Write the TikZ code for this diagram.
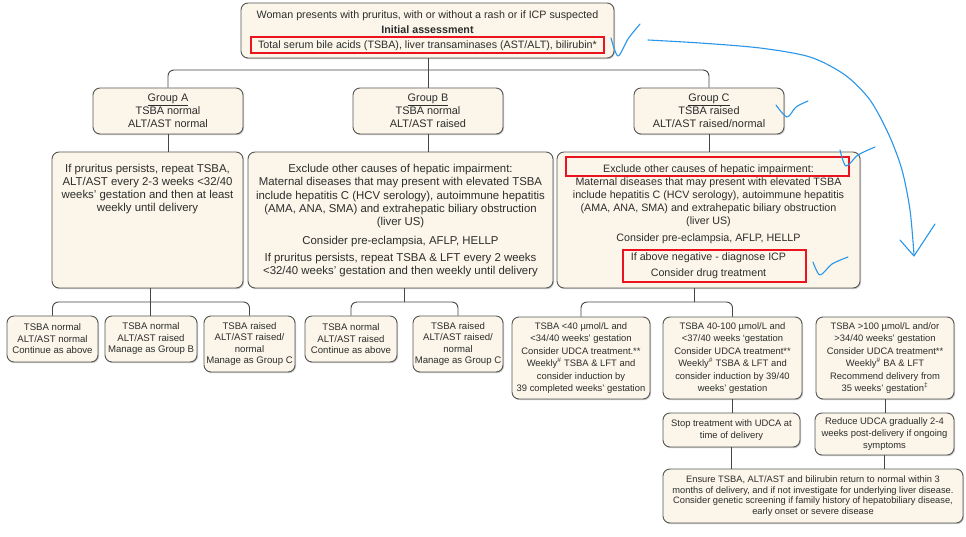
\documentclass[tikz,border=0pt]{standalone}
\usepackage{fontspec}
\setmainfont{Liberation Sans}
\usetikzlibrary{shadows}
\definecolor{boxfill}{RGB}{251,246,233}
\definecolor{boxdraw}{RGB}{85,85,85}
\definecolor{txt}{RGB}{45,45,45}
\definecolor{conncol}{RGB}{70,70,70}
\definecolor{annred}{RGB}{235,20,30}
\definecolor{annblue}{RGB}{40,150,235}
\tikzset{
  box/.style={draw=boxdraw, line width=0.9pt, fill=boxfill, rounded corners=7pt,
    drop shadow={shadow xshift=1pt, shadow yshift=-1.2pt, fill=black!40, opacity=0.5},
    inner sep=0pt, text=txt, align=center},
  plain/.style={inner sep=0pt, text=txt, align=center},
  fbig/.style={font=\fontsize{10.7}{15}\selectfont},
  fgrp/.style={font=\fontsize{10.9}{13}\selectfont},
  fdet/.style={font=\fontsize{11.4}{13.3}\selectfont},
  fdetc/.style={font=\fontsize{10.7}{13}\selectfont},
  fsmall/.style={font=\fontsize{9.6}{11.5}\selectfont},
  fc/.style={font=\fontsize{9.4}{12.4}\selectfont},
  fens/.style={font=\fontsize{9.3}{10.8}\selectfont},
  conn/.style={draw=conncol, line width=0.9pt},
  branch/.style={conn, rounded corners=6pt},
  redbox/.style={draw=annred, line width=1.4pt},
  annot/.style={draw=annblue, line width=1.1pt, line cap=round, line join=round},
}
\begin{document}
\begin{tikzpicture}[x=1pt,y=-1pt]
\useasboundingbox[fill=white] (0,0) rectangle (966,536);

% top
\node[box, fbig, minimum width=373pt, minimum height=55pt] (top) at (427.5,30.5)
  {Woman presents with pruritus, with or without a rash or if ICP suspected\\
   \textbf{Initial assessment}\\
   Total serum bile acids (TSBA), liver transaminases (AST/ALT), bilirubin*};

% groups
\node[box, fgrp, minimum width=150pt, minimum height=46pt] (gA) at (168,111)
  {\underline{Group A}\\TSBA normal\\ALT/AST normal};
\node[box, fgrp, minimum width=150pt, minimum height=46pt] (gB) at (428,111)
  {\underline{Group B}\\TSBA normal\\ALT/AST raised};
\node[box, fgrp, minimum width=150pt, minimum height=46pt] (gC) at (709,111)
  {\underline{Group C}\\TSBA raised\\ALT/AST raised/normal};

% details
\node[box, minimum width=191pt, minimum height=136pt] (adet) at (147.5,220) {};
\node[box, minimum width=305pt, minimum height=136pt] (bdet) at (400.5,220) {};
\node[box, minimum width=303pt, minimum height=136pt] (cdet) at (708.5,220) {};

\node[plain, fdet, anchor=north] (atext) at ([yshift=-12pt]adet.north)
  {If pruritus persists, repeat TSBA,\\
   ALT/AST every 2-3 weeks <32/40\\
   weeks’ gestation and then at least\\
   weekly until delivery};
\node[plain, fdet, anchor=north] (btext) at ([yshift=-12.5pt]bdet.north)
  {Exclude other causes of hepatic impairment:\\
   Maternal diseases that may present with elevated TSBA\\
   include hepatitis C (HCV serology), autoimmune hepatitis\\
   (AMA, ANA, SMA) and extrahepatic biliary obstruction\\
   (liver US)\\[5pt]
   Consider pre-eclampsia, AFLP, HELLP\\[4pt]
   If pruritus persists, repeat TSBA \& LFT every 2 weeks\\
   <32/40 weeks’ gestation and then weekly until delivery};
\node[plain, fdetc, anchor=north] (ctext) at ([yshift=-13pt]cdet.north)
  {Exclude other causes of hepatic impairment:\\
   Maternal diseases that may present with elevated TSBA\\
   include hepatitis C (HCV serology), autoimmune hepatitis\\
   (AMA, ANA, SMA) and extrahepatic biliary obstruction\\
   (liver US)\\[4pt]
   Consider pre-eclampsia, AFLP, HELLP\\[6pt]
   If above negative - diagnose ICP\\[3pt]
   Consider drug treatment};

% row 3 A
\node[box, fsmall, minimum width=91pt, minimum height=46pt] (a1) at (52.5,339)
  {TSBA normal\\ALT/AST normal\\Continue as above};
\node[box, fsmall, minimum width=92pt, minimum height=46pt] (a2) at (151,339)
  {TSBA normal\\ALT/AST raised\\Manage as Group B};
\node[box, fsmall, minimum width=91pt, minimum height=56pt] (a3) at (249.5,344)
  {TSBA raised\\ALT/AST raised/\\normal\\Manage as Group C};
% row 3 B
\node[box, fsmall, minimum width=92pt, minimum height=46pt] (b1) at (351,339)
  {TSBA normal\\ALT/AST raised\\Continue as above};
\node[box, fsmall, minimum width=90pt, minimum height=56pt] (b2) at (458,344)
  {TSBA raised\\ALT/AST raised/\\normal\\Manage as Group C};
% row 3 C
\node[box, fc, minimum width=138pt, minimum height=82pt] (c1) at (581,358)
  {TSBA <40 µmol/L and\\
   <34/40 weeks’ gestation\\
   Consider UDCA treatment.**\\
   Weekly\textsuperscript{\#} TSBA \& LFT and\\
   consider induction by\\
   39 completed weeks’ gestation};
\node[box, fc, minimum width=139pt, minimum height=82pt] (c2) at (732.5,358)
  {TSBA 40-100 µmol/L and\\
   <37/40 weeks ‘gestation\\
   Consider UDCA treatment**\\
   Weekly\textsuperscript{\#} TSBA \& LFT and\\
   consider induction by 39/40\\
   weeks’ gestation};
\node[box, fc, minimum width=138pt, minimum height=82pt] (c3) at (885,358)
  {TSBA >100 µmol/L and/or\\
   >34/40 weeks’ gestation\\
   Consider UDCA treatment**\\
   Weekly\textsuperscript{\#} BA \& LFT\\
   Recommend delivery from\\
   35 weeks’ gestation\textsuperscript{‡}};
\node[box, fc, minimum width=137pt, minimum height=34pt] (stop) at (731.5,430)
  {Stop treatment with UDCA at\\time of delivery};
\node[box, fc, minimum width=139pt, minimum height=42pt] (reduce) at (884.5,434)
  {Reduce UDCA gradually 2-4\\weeks post-delivery if ongoing\\symptoms};
\node[box, fens, minimum width=300pt, minimum height=54pt] (ensure) at (813,496)
  {Ensure TSBA, ALT/AST and bilirubin return to normal within 3\\
   months of delivery, and if not investigate for underlying liver disease.\\
   Consider genetic screening if family history of hepatobiliary disease,\\
   early onset or severe disease};

% connectors
\coordinate (j1) at (428,70);
\coordinate (jA) at (150,302);
\coordinate (jB) at (404,302);
\coordinate (jC) at (694,302);
\draw[conn] (top.south -| gB.north) -- (gB.north);
\draw[branch] (gA.north) |- (j1) -| (gC.north);
\draw[conn] (gA.south) -- (gA.south |- adet.north);
\draw[conn] (gB.south) -- (gB.south |- bdet.north);
\draw[conn] (gC.south) -- (gC.south |- cdet.north);
\draw[conn] (jA |- adet.south) -- (jA |- a2.north);
\draw[branch] (a1.north) |- (jA) -| (a3.north);
\draw[conn] (jB |- bdet.south) -- (jB);
\draw[branch] (b1.north) |- (jB) -| (b2.north);
\draw[conn] (jC |- cdet.south) -- (jC);
\draw[branch] (c1.north) |- (jC) -| (c2.north);
\draw[conn] (c2.south) -- (c2.south |- stop.north);
\draw[conn] (c3.south) -- (c3.south |- reduce.north);
\draw[conn] (stop.south) -- (stop.south |- ensure.north);
\draw[conn] (reduce.south) -- (reduce.south |- ensure.north);

% red annotation boxes
\draw[redbox] (251,37) rectangle (604,53);
\draw[redbox] (566,157) rectangle (849,176);
\draw[redbox] (623,250) rectangle (806,282);

% blue annotations
\draw[annot] plot[smooth] coordinates {(611,38) (618,56) (628,39) (640,24)};
\draw[annot] plot[smooth] coordinates {(648,40) (700,43) (760,48) (810,57) (845,75) (870,100) (889,135) (902,170) (910,210) (914,255)};
\draw[annot] (900,240) -- (914,256) -- (935,224);
\draw[annot] plot[smooth] coordinates {(776,105) (787,117) (796,107) (808,101)};
\draw[annot] plot[smooth] coordinates {(840,150) (846,166) (858,155) (875,147)};
\draw[annot] plot[smooth] coordinates {(813,262) (820,275) (832,264) (848,257)};
\end{tikzpicture}
\end{document}
